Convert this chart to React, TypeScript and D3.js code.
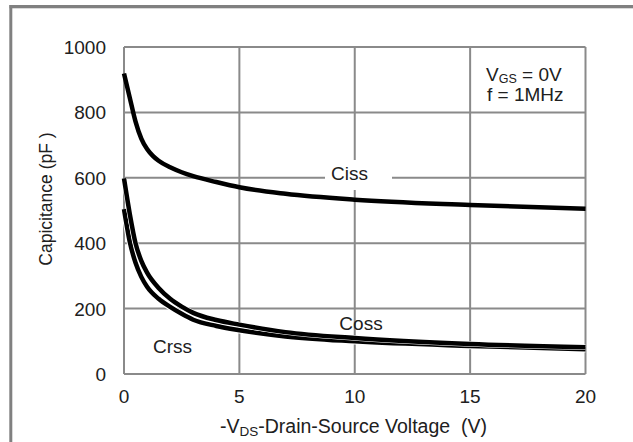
import React from "react";
import * as d3 from "d3";

const xTicks = [0, 5, 10, 15, 20];
const yTicks = [0, 200, 400, 600, 800, 1000];

const cissX = [0, 0.25, 0.5, 0.75, 1, 1.25, 1.5, 2, 2.5, 3, 4, 5, 7, 10, 15, 20];
const cissY = [919, 845, 772, 720, 688, 667, 652, 632, 617, 605, 587, 571, 551, 533, 517, 505];

const cossX = [0, 0.25, 0.5, 0.75, 1, 1.5, 2, 2.5, 3, 4, 5, 7, 10, 15, 20];
const cossY = [598, 490, 400, 346, 310, 263, 230, 206, 187, 165, 151, 128, 110, 92, 82];

const crssX = [0, 0.25, 0.5, 0.75, 1, 1.5, 2, 2.5, 3, 4, 5, 7, 10, 15, 20];
const crssY = [504, 404, 340, 297, 267, 230, 205, 184, 166, 147, 134, 115, 100, 86, 76];

const W = 633;
const H = 442;

export default function App() {
  const x = d3.scaleLinear().domain([0, 20]).range([124, 585.5]);
  const y = d3.scaleLinear().domain([0, 1000]).range([374, 47]);
  const line = d3
    .line<[number, number]>()
    .x((d) => x(d[0]))
    .y((d) => y(d[1]))
    .curve(d3.curveMonotoneX);
  const mk = (xs: number[], ys: number[]) => xs.map((v, i) => [v, ys[i]] as [number, number]);
  const font = "'Liberation Sans', Arial, sans-serif";
  const grid = "#8a8a8a";
  const tc = "#202020";
  return (
    <svg
      width={W}
      height={H}
      style={{ position: "absolute", left: 0, top: 0, background: "#fff" }}
      fontFamily={font}
    >
      <rect x={0} y={0} width={W} height={H} fill="#fff" />
      <rect x={9.5} y={5} width={W} height={3.3} fill="#808080" />
      <rect x={9.3} y={5} width={3} height={H} fill="#808080" />
      {xTicks.map((t) => (
        <line key={"gx" + t} x1={x(t)} x2={x(t)} y1={y(0)} y2={y(1000)} stroke={grid} strokeWidth={2} />
      ))}
      {yTicks.map((t) => (
        <line key={"gy" + t} x1={x(0)} x2={x(20)} y1={y(t)} y2={y(t)} stroke={grid} strokeWidth={2} />
      ))}
      <rect x={325} y={160} width={67} height={30} fill="#fff" />
      <path d={line(mk(cissX, cissY)) || ""} fill="none" stroke="#000" strokeWidth={4.5} />
      <path d={line(mk(crssX, crssY)) || ""} fill="none" stroke="#fff" strokeWidth={6.5} />
      <path d={line(mk(crssX, crssY)) || ""} fill="none" stroke="#000" strokeWidth={4.5} />
      <path d={line(mk(cossX, cossY)) || ""} fill="none" stroke="#fff" strokeWidth={5.5} />
      <path d={line(mk(cossX, cossY)) || ""} fill="none" stroke="#000" strokeWidth={4.5} />
      {xTicks.map((t) => (
        <text key={"tx" + t} x={x(t)} y={403} textAnchor="middle" fontSize={19} fill={tc}>
          {t}
        </text>
      ))}
      {yTicks.map((t) => (
        <text key={"ty" + t} x={106} y={y(t) + 7} textAnchor="end" fontSize={19} fill={tc}>
          {t}
        </text>
      ))}
      <text x={349.5} y={180} textAnchor="middle" fontSize={19} fill={tc}>Ciss</text>
      <text x={361} y={330} textAnchor="middle" fontSize={19} fill={tc}>Coss</text>
      <text x={172.5} y={353} textAnchor="middle" fontSize={19} fill={tc}>Crss</text>
      <text x={486} y={81} fontSize={19} fill={tc}>
        V<tspan fontSize={12.5} dy={1.5}>GS</tspan>
        <tspan dy={-1.5}> = 0V</tspan>
      </text>
      <text x={487} y={101} fontSize={19} fill={tc}>f = 1MHz</text>
      <text x={353.5} y={433} textAnchor="middle" fontSize={19.5} fill={tc} style={{ whiteSpace: "pre" }}>
        -V<tspan fontSize={13.5} dy={3}>DS</tspan>
        <tspan dy={-3}>{"-Drain-Source Voltage\u00a0 (V)"}</tspan>
      </text>
      <text
        transform={`translate(52, 199) rotate(-90)`}
        textAnchor="middle"
        fontSize={17.5}
        fill={tc}
        style={{ whiteSpace: "pre" }}
      >
        {"Capicitance (pF\u00a0)"}
      </text>
    </svg>
  );
}
